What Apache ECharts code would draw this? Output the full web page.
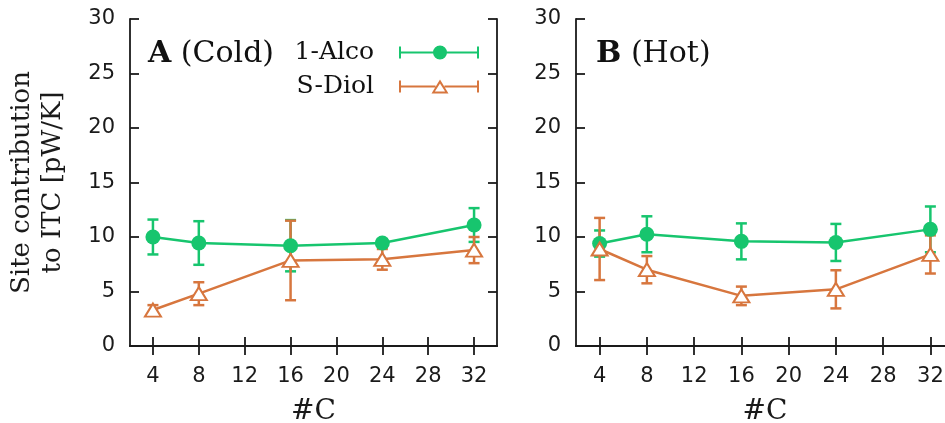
<!DOCTYPE html>
<html>
<head>
<meta charset="utf-8">
<script src="https://cdn.jsdelivr.net/npm/echarts@6/dist/echarts.min.js"></script>
<style>html,body{margin:0;padding:0;background:#fff}#c{width:945px;height:423px}</style>
</head>
<body>
<div id="c"></div>
<script>
// ---- data ----
var xC = [4, 8, 16, 24, 32];
var xTickValues = [4, 8, 12, 16, 20, 24, 28, 32];
var yTickValues = [0, 5, 10, 15, 20, 25, 30];
var coldAlco = [10.0, 9.45, 9.2, 9.45, 11.1];
var coldAlcoErr = [1.6, 2.0, 2.35, 0.35, 1.55];
var coldDiol = [3.3, 4.8, 7.85, 7.95, 8.8];
var coldDiolErr = [0.45, 1.05, 3.65, 0.95, 1.2];
var hotAlco = [9.4, 10.25, 9.6, 9.5, 10.7];
var hotAlcoErr = [1.2, 1.65, 1.65, 1.7, 2.1];
var hotDiol = [8.9, 7.0, 4.6, 5.2, 8.4];
var hotDiolErr = [2.85, 1.25, 0.85, 1.75, 1.75];
var seriesNames = ['1-Alco', 'S-Diol'];
var panelTitles = [['A', ' (Cold)'], ['B', ' (Hot)']];

var GREEN = '#17c56e';
var ORANGE = '#d7763e';
var AX = '#1a1a1a';
var SERIF = 'DejaVu Serif';
var SANS = 'DejaVu Sans';
var LW = 2.5;

function pts(v) { return xC.map(function (x, i) { return [x, v[i]]; }); }
function errs(v, e) { return xC.map(function (x, i) { return [x, v[i] - e[i], v[i] + e[i]]; }); }

function errSeries(name, data, color, xi, yi) {
  return {
    type: 'custom', name: name + ' err', xAxisIndex: xi, yAxisIndex: yi,
    data: data, encode: { x: 0, y: [1, 2] }, silent: true,
    renderItem: function (params, api) {
      var x = api.value(0), lo = api.value(1), hi = api.value(2);
      var pH = api.coord([x, hi]), pL = api.coord([x, lo]);
      var hw = 5.5;
      var st = { stroke: color, lineWidth: LW, fill: null };
      return { type: 'group', children: [
        { type: 'line', shape: { x1: pH[0], y1: pH[1], x2: pL[0], y2: pL[1] }, style: st },
        { type: 'line', shape: { x1: pH[0] - hw, y1: pH[1], x2: pH[0] + hw, y2: pH[1] }, style: st },
        { type: 'line', shape: { x1: pL[0] - hw, y1: pL[1], x2: pL[0] + hw, y2: pL[1] }, style: st }
      ]};
    }
  };
}
function lineSeries(name, data, color, xi, yi, tri) {
  return {
    type: 'line', name: name, xAxisIndex: xi, yAxisIndex: yi, data: data,
    symbol: tri ? 'emptyTriangle' : 'circle',
    symbolSize: tri ? [16, 13] : 15,
    color: color,
    itemStyle: tri ? { color: color, borderWidth: 2.2 } : { color: color },
    lineStyle: { color: color, width: LW },
    animation: false, silent: true
  };
}

function xAxes(gi) {
  var common = { type: 'value', gridIndex: gi, min: 2, max: 34,
    axisLine: { show: true, lineStyle: { color: AX, width: 1.8 } },
    splitLine: { show: false } };
  var bottom = Object.assign({}, common, {
    position: 'bottom',
    axisTick: { show: true, inside: true, length: 9, customValues: xTickValues, lineStyle: { color: AX, width: 1.8 } },
    axisLabel: { show: true, customValues: xTickValues, margin: 20, color: AX, fontFamily: SANS, fontSize: 21 },
    name: '#C', nameLocation: 'middle', nameGap: 52,
    nameTextStyle: { fontFamily: SERIF, fontSize: 28, color: AX }
  });
  var top = Object.assign({}, common, {
    position: 'top',
    axisTick: { show: true, inside: true, length: 9, customValues: xTickValues, lineStyle: { color: AX, width: 1.8 } },
    axisLabel: { show: false }
  });
  return [bottom, top];
}
function yAxes(gi, withName) {
  var common = { type: 'value', gridIndex: gi, min: 0, max: 30, interval: 5,
    axisLine: { show: true, lineStyle: { color: AX, width: 1.8 } },
    splitLine: { show: false },
    axisTick: { show: true, inside: true, length: 9, lineStyle: { color: AX, width: 1.8 } } };
  var left = Object.assign({}, common, {
    position: 'left',
    axisLabel: { show: true, margin: 15, color: AX, fontFamily: SANS, fontSize: 21,
      formatter: function (v) { return yTickValues.indexOf(v) >= 0 ? String(v) : ''; } }
  });
  if (withName) {
    left.name = 'Site contribution\nto ITC [pW/K]';
    left.nameLocation = 'middle';
    left.nameGap = 61;
    left.nameRotate = 90;
    left.nameTextStyle = { fontFamily: SERIF, fontSize: 26, color: AX, lineHeight: 31 };
  }
  var right = Object.assign({}, common, { position: 'right', axisLabel: { show: false } });
  return [left, right];
}

function titleItem(t, left) {
  return {
    text: '{b|' + t[0] + '}' + t[1], left: left, top: 34,
    textStyle: { fontFamily: SERIF, fontSize: 30, fontWeight: 'normal', color: '#111',
      rich: { b: { fontFamily: SERIF, fontSize: 30, fontWeight: 'bold', color: '#111' } } }
  };
}

// legend icons (path boxes 100 x 15, first 20px blank)
var iconAlco = 'path://M0,7.5 L0,7.5 Z ' +
  'M20,1.5 L22,1.5 L22,13.5 L20,13.5 Z ' +
  'M22,6.5 L98,6.5 L98,8.5 L22,8.5 Z ' +
  'M98,1.5 L100,1.5 L100,13.5 L98,13.5 Z ' +
  'M54,7.5 A7,7 0 1,1 68,7.5 A7,7 0 1,1 54,7.5 Z';
var iconDiol = 'path://M0,7.5 L0,7.5 Z ' +
  'M20,1.5 L22,1.5 L22,13.5 L20,13.5 Z ' +
  'M22,6.5 L56.5,6.5 L56.5,8.5 L22,8.5 Z ' +
  'M65.5,6.5 L98,6.5 L98,8.5 L65.5,8.5 Z ' +
  'M98,1.5 L100,1.5 L100,13.5 L98,13.5 Z ' +
  'M61,0.5 L69.5,14.5 L52.5,14.5 Z ' +
  'M61,4.6 L55.9,12.6 L66.1,12.6 Z';

var chart = echarts.init(document.getElementById('c'), null, { renderer: 'canvas' });
var option = {
  animation: false,
  backgroundColor: '#fff',
  title: [titleItem(panelTitles[0], 143), titleItem(panelTitles[1], 591)],
  grid: [
    { left: 130, top: 19, width: 367, height: 327, containLabel: false, outerBoundsMode: 'none' },
    { left: 576, top: 19, width: 378, height: 327, containLabel: false, outerBoundsMode: 'none' }
  ],
  xAxis: xAxes(0).concat(xAxes(1)),
  yAxis: yAxes(0, true).concat(yAxes(1, false)),
  legend: {
    orient: 'vertical', align: 'right', right: 461, top: 35,
    itemWidth: 100, itemHeight: 15, itemGap: 9,
    textStyle: { fontFamily: SERIF, fontSize: 25, color: '#111' },
    selectedMode: false,
    data: [
      { name: seriesNames[0], icon: iconAlco, itemStyle: { color: GREEN, borderWidth: 0 } },
      { name: seriesNames[1], icon: iconDiol, itemStyle: { color: ORANGE, borderWidth: 0 } }
    ]
  },
  series: [
    errSeries(seriesNames[0], errs(coldAlco, coldAlcoErr), GREEN, 0, 0),
    lineSeries(seriesNames[0], pts(coldAlco), GREEN, 0, 0, false),
    errSeries(seriesNames[1], errs(coldDiol, coldDiolErr), ORANGE, 0, 0),
    lineSeries(seriesNames[1], pts(coldDiol), ORANGE, 0, 0, true),
    errSeries(seriesNames[0], errs(hotAlco, hotAlcoErr), GREEN, 2, 2),
    lineSeries(seriesNames[0], pts(hotAlco), GREEN, 2, 2, false),
    errSeries(seriesNames[1], errs(hotDiol, hotDiolErr), ORANGE, 2, 2),
    lineSeries(seriesNames[1], pts(hotDiol), ORANGE, 2, 2, true)
  ]
};
chart.setOption(option);
</script>
</body>
</html>
